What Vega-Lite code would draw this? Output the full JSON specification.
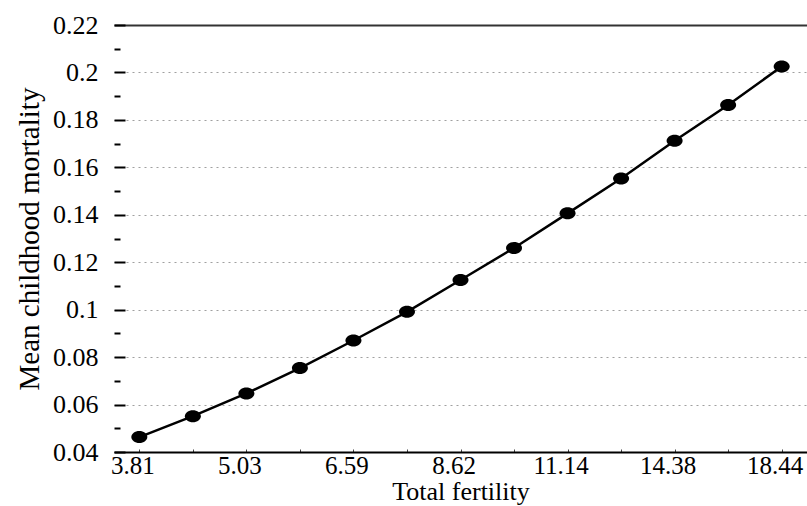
{
  "$schema": "https://vega.github.io/schema/vega-lite/v6.json",
  "width": 693,
  "height": 427,
  "autosize": {"type": "none"},
  "padding": {"left": 114, "top": 25, "right": 0, "bottom": 54},
  "background": "white",
  "config": {
    "view": {"stroke": null},
    "font": "Liberation Serif",
    "axis": {"labelFont": "Liberation Serif", "titleFont": "Liberation Serif", "labelColor": "black", "titleColor": "black", "titleFontWeight": "normal"}
  },
  "data": {
    "values": [
      {"fertility": 3.81, "mortality": 0.0463},
      {"fertility": 4.38, "mortality": 0.0551},
      {"fertility": 5.03, "mortality": 0.0647},
      {"fertility": 5.76, "mortality": 0.0754},
      {"fertility": 6.59, "mortality": 0.087},
      {"fertility": 7.54, "mortality": 0.0991},
      {"fertility": 8.62, "mortality": 0.1125},
      {"fertility": 9.8, "mortality": 0.126},
      {"fertility": 11.14, "mortality": 0.1406},
      {"fertility": 12.66, "mortality": 0.1553},
      {"fertility": 14.38, "mortality": 0.1712},
      {"fertility": 16.28, "mortality": 0.1863},
      {"fertility": 18.44, "mortality": 0.2025}
    ]
  },
  "encoding": {
    "x": {
      "field": "fertility",
      "type": "ordinal",
      "sort": "ascending",
      "scale": {"type": "point", "padding": 0.473},
      "axis": {
        "title": "Total fertility",
        "titleFontSize": 26,
        "titlePadding": 0,
        "labelFontSize": 25,
        "labelAngle": 0,
        "labelOffset": -7,
        "labelPadding": 4,
        "labelExpr": "indexof([3.81,5.03,6.59,8.62,11.14,14.38,18.44], datum.value) >= 0 ? datum.label : ''",
        "domainColor": "black",
        "domainWidth": 2,
        "tickColor": "#444",
        "tickSize": -3,
        "grid": false
      }
    },
    "y": {
      "field": "mortality",
      "type": "quantitative",
      "scale": {"domain": [0.04, 0.22], "nice": false, "zero": false},
      "axis": {
        "title": "Mean childhood mortality",
        "titleFontSize": 29,
        "titlePadding": 8,
        "labelFontSize": 26,
        "labelPadding": 27,
        "values": [0.04,0.05,0.06,0.07,0.08,0.09,0.1,0.11,0.12,0.13,0.14,0.15,0.16,0.17,0.18,0.19,0.2,0.21,0.22],
        "format": "~g",
        "labelExpr": "round(datum.value*100)%2==0 ? datum.label : ''",
        "domain": false,
        "tickColor": "black",
        "tickWidth": 2,
        "tickSize": {"condition": {"test": "round(datum.value*100)%2==0", "value": -11}, "value": -6},
        "grid": true,
        "gridColor": {"condition": {"test": "round(datum.value*100)==22", "value": "black"}, "value": "#888"},
        "gridWidth": {"condition": {"test": "round(datum.value*100)==22", "value": 2}, "value": 1},
        "gridDash": {"condition": {"test": "round(datum.value*100)==22", "value": []}, "value": [2, 4]},
        "gridOpacity": {"condition": {"test": "round(datum.value*100)%2==0", "value": 0.8}, "value": 0}
      }
    }
  },
  "layer": [
    {"mark": {"type": "line", "color": "black", "strokeWidth": 2.5}},
    {"mark": {"type": "point", "filled": true, "color": "black", "opacity": 1, "size": 100, "shape": "M-1.6,0A1.6,1.2 0 1,1 1.6,0A1.6,1.2 0 1,1 -1.6,0Z"}}
  ]
}
